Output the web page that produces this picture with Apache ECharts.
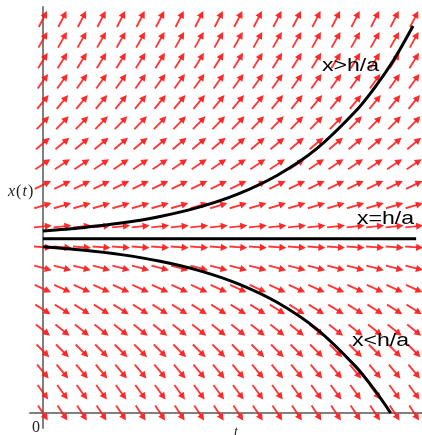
<!DOCTYPE html>
<html>
<head>
<meta charset="utf-8">
<script src="https://cdn.jsdelivr.net/npm/echarts@6/dist/echarts.min.js"></script>
<style>
  html, body { margin: 0; padding: 0; background: #ffffff; }
  #chart { width: 422px; height: 435px; }
</style>
</head>
<body>
<div id="chart"></div>
<script>
// Grid of direction-field sample points (t columns, x rows)
const tCols = [0, 1, 2, 3, 4, 5, 6, 7, 8, 9, 10, 11, 12, 13, 14, 15, 16, 17, 18, 19];
const xRows = [0, 1, 2, 3, 4, 5, 6, 7, 8, 9, 10, 11, 12, 13, 14, 15, 16, 17, 18, 19];
// Arrow angle (degrees) for each row
const rowAngles = [-57, -54, -50, -45, -39, -32, -24, -14.5, -4, 6, 16.5, 25.5, 33.5, 40, 46, 50.5, 54.5, 58, 60.5, 63];

// Equilibrium x = h/a
const eqLevel = 8.4;
const eqT = [0, 19.1];

// Solution curves
const upperT = [0, 2, 4, 6, 8, 10, 12, 14, 16, 17, 18, 18.94];
const upperX = [8.78, 8.94, 9.16, 9.48, 9.93, 10.57, 11.47, 12.74, 14.55, 15.72, 17.10, 18.66];
const lowerT = [0, 2, 4, 6, 8, 10, 12, 14, 16, 17, 17.8];
const lowerX = [8.02, 7.86, 7.64, 7.32, 6.87, 6.23, 5.33, 4.06, 2.25, 1.08, 0];

const labels = ['x>h/a', 'x=h/a', 'x<h/a'];

const arrowData = [];
xRows.forEach((x, i) => {
  tCols.forEach(t => arrowData.push([t, x, rowAngles[i]]));
});

const chart = echarts.init(document.getElementById('chart'), null, { renderer: 'canvas' });

const ARROW_LEN = 18, HEAD_LEN = 7, HEAD_HALF = 3.6;
function renderArrow(params, api) {
  const c = api.coord([api.value(0), api.value(1)]);
  const a = api.value(2) * Math.PI / 180;
  const dx = Math.cos(a), dy = -Math.sin(a);
  const nx = -dy, ny = dx;
  const tail = [c[0] - dx * ARROW_LEN / 2, c[1] - dy * ARROW_LEN / 2];
  const tip = [c[0] + dx * ARROW_LEN / 2, c[1] + dy * ARROW_LEN / 2];
  const base = [tip[0] - dx * HEAD_LEN, tip[1] - dy * HEAD_LEN];
  return {
    type: 'group',
    children: [
      { type: 'line', shape: { x1: tail[0], y1: tail[1], x2: base[0] + dx, y2: base[1] + dy },
        style: { stroke: 'rgba(255,20,20,0.85)', lineWidth: 1.9 } },
      { type: 'polygon', shape: { points: [tip, [base[0] + nx * HEAD_HALF, base[1] + ny * HEAD_HALF], [base[0] - nx * HEAD_HALF, base[1] - ny * HEAD_HALF]] },
        style: { fill: 'rgba(255,20,20,0.9)' } }
    ]
  };
}

const labelFont = 'Liberation Sans, Arial, sans-serif';
const serif = 'Liberation Serif, Times New Roman, serif';

chart.setOption({
  animation: false,
  backgroundColor: '#ffffff',
  grid: { left: 30, right: 0, top: 7, bottom: 7, containLabel: false },
  xAxis: {
    type: 'value', min: -0.66, max: 19.4,
    axisLine: { onZero: true, lineStyle: { color: '#808080', width: 2 } },
    axisTick: { show: false }, axisLabel: { show: false }, splitLine: { show: false }
  },
  yAxis: {
    type: 'value', min: -0.72, max: 19.58,
    axisLine: { onZero: true, lineStyle: { color: '#808080', width: 2 } },
    axisTick: { show: false }, axisLabel: { show: false }, splitLine: { show: false }
  },
  series: [
    { type: 'custom', renderItem: renderArrow, data: arrowData, clip: false, z: 2 },
    { type: 'line', data: eqT.map(t => [t, eqLevel]), showSymbol: false, z: 3,
      lineStyle: { color: '#000000', width: 3 } },
    { type: 'line', data: upperT.map((t, i) => [t, upperX[i]]), showSymbol: false, smooth: 0.3, z: 3,
      lineStyle: { color: '#000000', width: 3 } },
    { type: 'line', data: lowerT.map((t, i) => [t, lowerX[i]]), showSymbol: false, smooth: 0.3, z: 3,
      lineStyle: { color: '#000000', width: 3 } }
  ],
  graphic: [
    { type: 'text', left: 322, top: 57, scaleX: 1.28, z: 10,
      style: { text: labels[0], font: '18px ' + labelFont, fill: '#000' } },
    { type: 'text', left: 357, top: 210, scaleX: 1.28, z: 10,
      style: { text: labels[1], font: '18px ' + labelFont, fill: '#000' } },
    { type: 'text', left: 352, top: 332, scaleX: 1.28, z: 10,
      style: { text: labels[2], font: '18px ' + labelFont, fill: '#000' } },
    { type: 'text', left: 8, top: 184, z: 10,
      style: { text: '{i|x}({i|t})', font: '16px ' + serif, fill: '#222',
        rich: { i: { font: 'italic 16px ' + serif, fill: '#222', padding: [0, 1, 0, 1] } } } },
    { type: 'text', left: 32, top: 420, z: 10,
      style: { text: '0', font: '16px ' + serif, fill: '#222' } },
    { type: 'text', left: 234, top: 425, z: 10,
      style: { text: 't', font: 'italic 14px ' + serif, fill: '#222' } }
  ]
});
</script>
</body>
</html>
